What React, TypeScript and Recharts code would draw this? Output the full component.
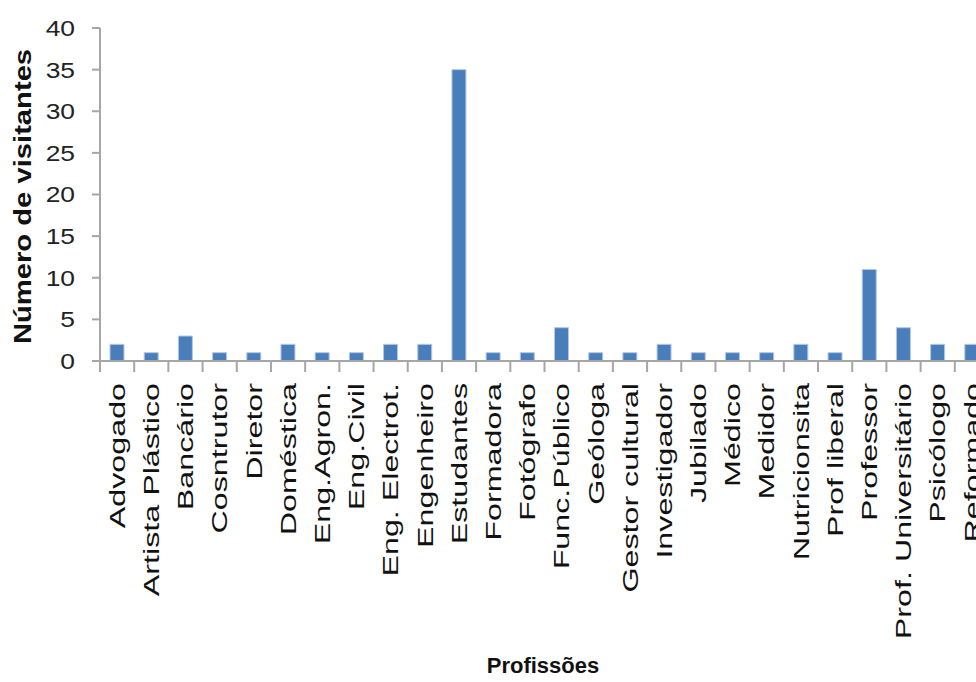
import { BarChart, Bar, XAxis, YAxis } from 'recharts'

const profissoes = [
  'Advogado', 'Artista Plástico', 'Bancário', 'Cosntrutor', 'Diretor', 'Doméstica',
  'Eng.Agron.', 'Eng.Civil', 'Eng. Electrot.', 'Engenheiro', 'Estudantes', 'Formadora',
  'Fotógrafo', 'Func.Público', 'Geóloga', 'Gestor cultural', 'Investigador', 'Jubilado',
  'Médico', 'Medidor', 'Nutricionsita', 'Prof liberal', 'Professor', 'Prof. Universitário',
  'Psicólogo', 'Reformado',
]
const visitantes = [2, 1, 3, 1, 1, 2, 1, 1, 2, 2, 35, 1, 1, 4, 1, 1, 2, 1, 1, 1, 2, 1, 11, 4, 2, 2]
const yTicks = [0, 5, 10, 15, 20, 25, 30, 35, 40]

const data = profissoes.map((p, i) => ({ name: p, value: visitantes[i] }))

const font = '"Liberation Sans", Arial, sans-serif'
const grey = '#a6a6a6'

const XTick = (props: any) => {
  const { x, y, payload } = props
  const half = payload?.offset ?? 0
  return (
    <g>
      <line x1={x - half} x2={x - half} y1={y - 22} y2={y - 11} stroke={grey} strokeWidth={2} />
      <g transform={`translate(${x},${y})`}>
        <text transform="rotate(-90) scale(1.5,1)" textAnchor="end" dy="0.36em"
          fontFamily={font} fontSize={21.5} fill="#111">
          {payload.value}
        </text>
      </g>
    </g>
  )
}

const YTick = (props: any) => {
  const { x, y, payload } = props
  return (
    <g transform={`translate(${x},${y})`}>
      <text transform="scale(1.2,1)" textAnchor="end" dy="0.36em"
        fontFamily={font} fontSize={22} fill="#222">
        {payload.value}
      </text>
    </g>
  )
}

const YTitle = (props: any) => {
  const vb = props.viewBox
  return (
    <g transform={`translate(${vb.x + 23},${vb.y + vb.height / 2 + 2})`}>
      <text transform="rotate(-90) scale(1.27,1)" textAnchor="middle" dy="0.36em"
        fontFamily={font} fontWeight="bold" fontSize={23} fill="#111">
        Número de visitantes
      </text>
    </g>
  )
}

export default function App() {
  return (
    <div style={{ position: 'fixed', left: 0, top: 0, width: 976, height: 682, overflow: 'hidden', background: '#fff' }}>
      <BarChart width={1010} height={682} data={data}
        margin={{ top: 28, right: 21, left: 0, bottom: 0 }}>
        <XAxis dataKey="name" interval={0} height={321} tickSize={11} tickMargin={11}
          tickLine={false} axisLine={{ stroke: grey, strokeWidth: 2 }} tick={<XTick />} />
        <YAxis domain={[0, 40]} ticks={yTicks} interval={0} width={100} tickSize={8} tickMargin={17}
          tickLine={{ stroke: grey, strokeWidth: 2 }} axisLine={{ stroke: grey, strokeWidth: 2 }}
          tick={<YTick />} label={<YTitle />} />
        <Bar dataKey="value" barSize={14} fill="#4a7ebb" stroke="#b3c8e6" strokeWidth={1}
          isAnimationActive={false} />
      </BarChart>
      <div style={{ position: 'absolute', left: 0, top: 653, width: 1086, textAlign: 'center',
        fontFamily: font, fontWeight: 'bold', fontSize: 22, color: '#111' }}>
        Profissões
      </div>
    </div>
  )
}
